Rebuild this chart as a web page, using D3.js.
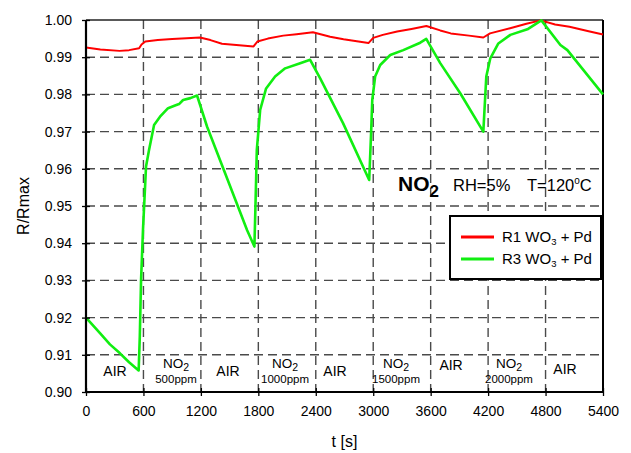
<!DOCTYPE html>
<html>
<head>
<meta charset="utf-8">
<script src="https://cdn.jsdelivr.net/npm/d3@7"></script>
<style>
  html, body { margin: 0; padding: 0; background: #fff; }
  svg { display: block; font-family: "Liberation Sans", Arial, Helvetica, sans-serif; }
</style>
</head>
<body>
<svg id="chart" width="631" height="453"></svg>
<script>
// ---- data ----
const xTicks = [0, 600, 1200, 1800, 2400, 3000, 3600, 4200, 4800, 5400];
const yTicks = [0.90, 0.91, 0.92, 0.93, 0.94, 0.95, 0.96, 0.97, 0.98, 0.99, 1.00];
const yTickLabels = ["0.90", "0.91", "0.92", "0.93", "0.94", "0.95", "0.96", "0.97", "0.98", "0.99", "1.00"];

const r1Time = [0, 150, 350, 450, 555, 580, 620, 750, 900, 1050, 1190, 1300, 1420, 1600, 1750, 1790, 1900, 2060, 2200, 2370, 2550, 2690, 2950, 3000, 3100, 3250, 3400, 3555, 3700, 3810, 4000, 4150, 4220, 4430, 4600, 4750, 4900, 5050, 5250, 5400];
const r1Value = [0.9926, 0.9921, 0.9917, 0.9919, 0.9924, 0.9934, 0.9942, 0.9946, 0.9949, 0.9951, 0.9953, 0.9946, 0.9936, 0.9932, 0.9929, 0.9942, 0.9950, 0.9958, 0.9962, 0.9967, 0.9955, 0.9948, 0.9938, 0.9952, 0.9960, 0.9969, 0.9976, 0.9984, 0.9972, 0.9964, 0.9958, 0.9953, 0.9964, 0.9978, 0.9990, 0.9999, 0.9988, 0.9982, 0.9970, 0.9961];

const r3Time = [0, 146, 250, 355, 450, 550, 562, 575, 595, 627, 658, 711, 773, 857, 930, 972, 1014, 1090, 1160, 1265, 1450, 1683, 1759, 1770, 1784, 1819, 1881, 1975, 2080, 2237, 2341, 2446, 2686, 2958, 2979, 2990, 3020, 3073, 3178, 3314, 3491, 3554, 3700, 3909, 4150, 4181, 4223, 4307, 4432, 4610, 4756, 4955, 5028, 5400];
const r3Value = [0.9200, 0.9158, 0.9128, 0.9104, 0.9080, 0.9058, 0.9150, 0.9300, 0.9435, 0.9606, 0.9650, 0.9718, 0.9740, 0.9763, 0.9770, 0.9774, 0.9785, 0.9790, 0.9797, 0.9713, 0.9590, 0.9435, 0.9391, 0.9500, 0.9650, 0.9758, 0.9816, 0.9848, 0.9870, 0.9884, 0.9893, 0.9843, 0.9722, 0.9570, 0.9704, 0.9785, 0.9848, 0.9879, 0.9906, 0.9919, 0.9939, 0.9949, 0.9884, 0.9803, 0.9700, 0.9848, 0.9897, 0.9937, 0.9960, 0.9975, 0.9999, 0.9933, 0.9919, 0.9800];

const seriesNames = ["R1 WO", "R3 WO"];
const airLabelTimes = [303, 1483, 2601, 3813, 5003];
const airLabelValues = [0.9043, 0.9043, 0.9043, 0.9059, 0.9048];
const no2LabelTimes = [940, 2079, 3238, 4418];
const no2Concentrations = ["500ppm", "1000ppm", "1500ppm", "2000ppm"];

// ---- layout ----
const svg = d3.select("#chart");
const m = { left: 86, right: 603, top: 20, bottom: 392 };
const x = d3.scaleLinear().domain([0, 5400]).range([m.left, m.right]);
const y = d3.scaleLinear().domain([0.90, 1.00]).range([m.bottom, m.top]);

// grid
const grid = svg.append("g").attr("stroke", "#4a4a4a").attr("stroke-width", 1.4).attr("stroke-dasharray", "9,5");
grid.selectAll("line.h").data(yTicks.filter(v => v > 0.90 && v < 1.0)).join("line")
  .attr("x1", m.left).attr("x2", m.right).attr("y1", d => y(d)).attr("y2", d => y(d));
grid.selectAll("line.v").data(xTicks.filter(v => v > 0 && v < 5400)).join("line")
  .attr("y1", m.top).attr("y2", m.bottom).attr("x1", d => x(d)).attr("x2", d => x(d));

// frame (top, right)
svg.append("line").attr("x1", m.left).attr("x2", m.right).attr("y1", m.top).attr("y2", m.top)
  .attr("stroke", "#222").attr("stroke-width", 1.5);
svg.append("line").attr("x1", m.right).attr("x2", m.right).attr("y1", m.top).attr("y2", m.bottom)
  .attr("stroke", "#000").attr("stroke-width", 2);

// segment labels
const labels = svg.append("g").attr("fill", "#000");
labels.selectAll("text.air").data(airLabelTimes).join("text")
  .attr("x", d => x(d)).attr("y", (d, i) => y(airLabelValues[i]))
  .attr("text-anchor", "middle").attr("font-size", 14).text("AIR");
no2LabelTimes.forEach((t, i) => {
  const tx = labels.append("text").attr("x", x(t)).attr("y", 368)
    .attr("text-anchor", "middle").attr("font-size", 13.5);
  tx.append("tspan").text("NO");
  tx.append("tspan").attr("font-size", 10.5).attr("dy", 3).text("2");
  labels.append("text").attr("x", x(t)).attr("y", 383)
    .attr("text-anchor", "middle").attr("font-size", 11.5).text(no2Concentrations[i]);
});

// lines
const line = d3.line().x(d => x(d[0])).y(d => y(d[1]));
const r1 = r1Time.map((t, i) => [t, r1Value[i]]);
const r3 = r3Time.map((t, i) => [t, r3Value[i]]);
const colors = ["#ff0000", "#11ee11"];
svg.append("path").datum(r1).attr("d", line).attr("fill", "none")
  .attr("stroke", colors[0]).attr("stroke-width", 2).attr("stroke-linejoin", "round");
svg.append("path").datum(r3).attr("d", line).attr("fill", "none")
  .attr("stroke", colors[1]).attr("stroke-width", 2.6).attr("stroke-linejoin", "round");

// axes
const yAxis = d3.axisLeft(y).tickValues(yTicks).tickFormat((d, i) => yTickLabels[i]).tickSize(4).tickPadding(10);
const gy = svg.append("g").attr("transform", `translate(${m.left},0)`).call(yAxis);
const xAxis = d3.axisBottom(x).tickValues(xTicks).tickFormat(d => String(d)).tickSize(4).tickPadding(10);
const gx = svg.append("g").attr("transform", `translate(0,${m.bottom})`).call(xAxis);
[gy, gx].forEach(g => {
  g.select(".domain").remove();
  g.selectAll("text").attr("font-size", 14).attr("fill", "#000")
    .attr("font-family", "Liberation Sans, Arial, sans-serif");
  g.selectAll(".tick line").attr("stroke", "#000").attr("stroke-width", 1.3);
});
gy.selectAll(".tick line").attr("x1", 4).attr("x2", -4);
gx.selectAll(".tick line").attr("y1", -4).attr("y2", 4);
svg.append("line").attr("x1", m.left).attr("x2", m.left).attr("y1", m.top).attr("y2", m.bottom + 1)
  .attr("stroke", "#000").attr("stroke-width", 2.2);
svg.append("line").attr("x1", m.left - 1).attr("x2", m.right + 1).attr("y1", m.bottom).attr("y2", m.bottom)
  .attr("stroke", "#000").attr("stroke-width", 2.2);

// axis titles
svg.append("text").attr("transform", `translate(29,206) rotate(-90)`)
  .attr("text-anchor", "middle").attr("font-size", 16).text("R/Rmax");
svg.append("text").attr("x", (m.left + m.right) / 2).attr("y", 447)
  .attr("text-anchor", "middle").attr("font-size", 16).text("t [s]");

// annotation
const ann = svg.append("text").attr("x", 398).attr("y", 191).attr("fill", "#000");
ann.append("tspan").attr("font-size", 21).attr("font-weight", "bold").text("NO");
ann.append("tspan").attr("font-size", 17).attr("font-weight", "bold").attr("dy", 6).text("2");
const ann2 = svg.append("text").attr("x", 453).attr("y", 191).attr("font-size", 16.5);
ann2.text("RH=5%");
const ann3 = svg.append("text").attr("x", 527).attr("y", 191).attr("font-size", 16.5);
ann3.append("tspan").text("T=120");
ann3.append("tspan").attr("font-size", 10).attr("dy", -7).text("o");
ann3.append("tspan").attr("dy", 7).text("C");

// legend
const lg = svg.append("g");
lg.append("rect").attr("x", 450).attr("y", 216).attr("width", 151).attr("height", 63)
  .attr("fill", "#fff").attr("stroke", "#000").attr("stroke-width", 2);
seriesNames.forEach((name, i) => {
  const yy = 237 + i * 22;
  lg.append("line").attr("x1", 461).attr("x2", 494).attr("y1", yy).attr("y2", yy)
    .attr("stroke", colors[i]).attr("stroke-width", 3);
  const t = lg.append("text").attr("x", 502).attr("y", yy + 5).attr("font-size", 15);
  t.append("tspan").text(name);
  t.append("tspan").attr("font-size", 9.5).attr("dy", 3).text("3");
  t.append("tspan").attr("dy", -3).text(" + Pd");
});
</script>
</body>
</html>
